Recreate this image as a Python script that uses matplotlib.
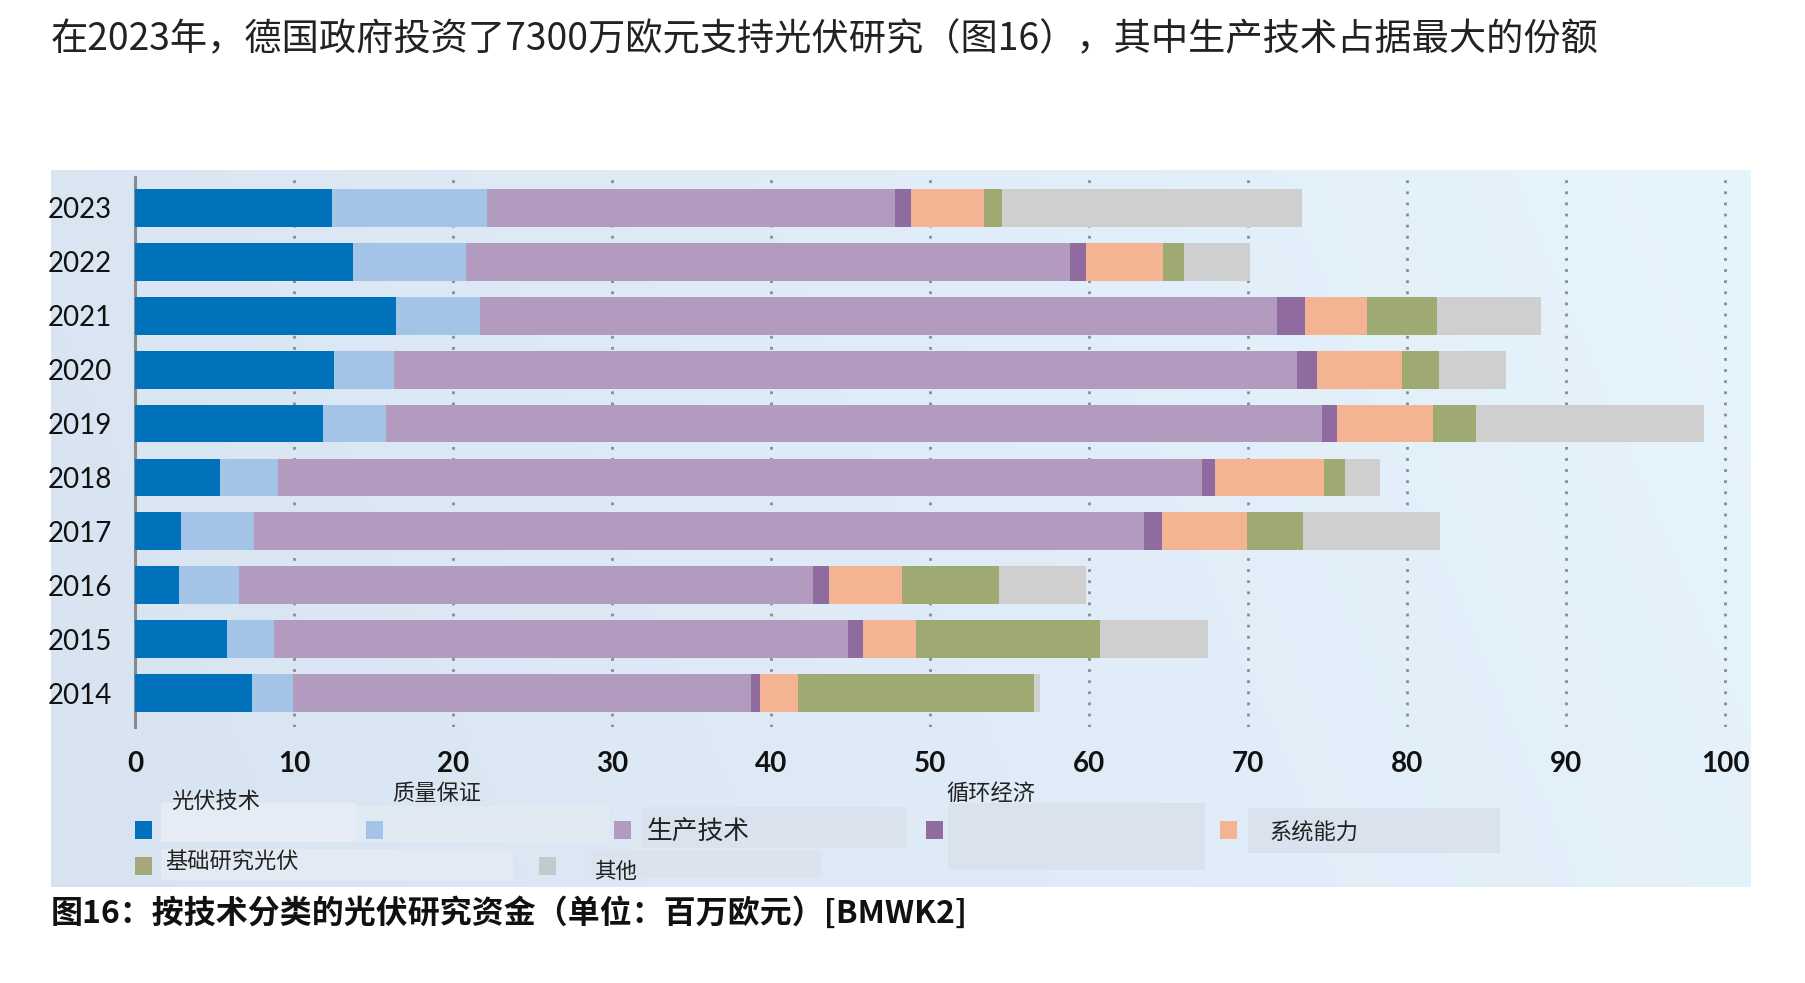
import numpy as np
import matplotlib
matplotlib.use("Agg")
import matplotlib.pyplot as plt
from matplotlib.patches import Rectangle

plt.rcParams['font.family'] = ['Noto Sans CJK SC', 'DejaVu Sans']

# data (million EUR)
years = ['2014', '2015', '2016', '2017', '2018', '2019', '2020', '2021', '2022', '2023']
categories = ['光伏技术', '质量保证', '生产技术', '循环经济', '系统能力', '基础研究光伏', '其他']
pv_tech    = [7.35, 5.75, 2.75, 2.85, 5.35, 11.8, 12.5, 16.4, 13.7, 12.35]
quality    = [2.6, 3.0, 3.75, 4.6, 3.65, 3.95, 3.8, 5.3, 7.1, 9.75]
production = [28.8, 36.05, 36.1, 56.0, 58.1, 58.9, 56.8, 50.1, 38.0, 25.7]
circular   = [0.55, 0.95, 1.05, 1.1, 0.8, 0.95, 1.2, 1.75, 1.0, 1.0]
system     = [2.4, 3.35, 4.55, 5.4, 6.9, 6.0, 5.4, 3.9, 4.85, 4.6]
basic      = [14.85, 11.6, 6.1, 3.5, 1.3, 2.7, 2.3, 4.4, 1.3, 1.1]
other      = [0.35, 6.8, 5.5, 8.6, 2.2, 14.4, 4.2, 6.6, 4.15, 18.9]
xticks = [0, 10, 20, 30, 40, 50, 60, 70, 80, 90, 100]

series = [pv_tech, quality, production, circular, system, basic, other]
colors = ['#0071bb', '#a3c4e7', '#b39bc0', '#8f6b9f', '#f4b493', '#9faa72', '#cfcfcf']
legend_colors = ['#0071bb', '#a3c4e7', '#b39bc0', '#8f6b9f', '#f4b493', '#a4a878', '#c2cacd']

title = '在2023年，德国政府投资了7300万欧元支持光伏研究（图16），其中生产技术占据最大的份额'
caption = '图16：按技术分类的光伏研究资金（单位：百万欧元）[BMWK2]'

W, H = 1805, 983
fig = plt.figure(figsize=(W / 100, H / 100), dpi=100)
fig.patch.set_facecolor('white')

# overlay in pixel coordinates for panel, legend and texts
ov = fig.add_axes([0, 0, 1, 1], zorder=0)
ov.set_xlim(0, W)
ov.set_ylim(H, 0)
ov.axis('off')

# panel with soft gradient
gx = np.linspace(0, 1, 256)
gy = np.linspace(0, 1, 64)
GX, GY = np.meshgrid(gx, gy)
left_c = np.array([0.847, 0.890, 0.945])
right_c = np.array([0.902, 0.957, 0.992])
t = np.clip(GX * 0.85 + (1 - GY) * 0.15, 0, 1)
img = left_c[None, None, :] * (1 - t[..., None]) + right_c[None, None, :] * t[..., None]
ov.imshow(img, extent=(51, 1751, 887, 170), aspect='auto', zorder=0, interpolation='bilinear')

# legend-area boxes
boxes = [(161, 803, 195, 39, '#e5ecf5'), (356, 806, 253, 36, '#e1e9f3'),
         (642, 807, 264, 41, '#d9e2ed'), (948, 803, 257, 67, '#d9e2ed'),
         (1248, 808, 252, 45, '#d9e2ed'), (161, 849, 352, 31, '#e3eaf3'),
         (591, 850, 230, 28, '#dae3ee')]
for bx, by, bw, bh, bc in boxes:
    ov.add_patch(Rectangle((bx, by), bw, bh, facecolor=bc, edgecolor='none', zorder=1))

# legend squares and labels (scattered like the reference)
sq = [(135, 821), (366, 821), (614, 821), (926, 821), (1220, 821), (135, 857), (539, 857)]
lab = [(216, 801, 'center', 16), (437, 793, 'center', 16), (647, 833, 'left', 18.5),
       (946, 793, 'left', 16), (1269, 833, 'left', 16), (165, 862, 'left', 16),
       (594, 872, 'left', 15.5)]
for (sx, sy), (lx, ly, ha, fs), name, c in zip(sq, lab, categories, legend_colors):
    ov.add_patch(Rectangle((sx, sy), 17, 18, facecolor=c, edgecolor='none', zorder=2))
    ov.text(lx, ly, name, ha=ha, va='center', fontsize=fs, color='#222222',
            fontweight='light', zorder=3)

ov.text(51, 40, title, ha='left', va='center', fontsize=26.8, color='#222222', fontweight='light')
ov.text(51, 913, caption, ha='left', va='center', fontsize=23, color='#111111', fontweight='bold')

# main chart
ax = fig.add_axes([135.3 / W, 1 - 727 / H, (1741 - 135.3) / W, (727 - 176.7) / H], zorder=1)
ax.set_facecolor('none')
y = np.arange(len(years))
left = np.zeros(len(years))
for vals, c in zip(series, colors):
    ax.barh(y, vals, left=left, height=0.7, color=c, edgecolor='none', zorder=3)
    left += np.array(vals)

ax.set_xlim(0, 101)
ax.set_ylim(-0.63, 9.58)
ax.set_xticks(xticks)
ax.set_yticks(y)
ax.set_yticklabels(years)
for s in ['top', 'right', 'bottom']:
    ax.spines[s].set_visible(False)
ax.spines['left'].set_color('#8a8a8a')
ax.spines['left'].set_linewidth(2.2)
ax.tick_params(axis='both', length=0)
ax.tick_params(axis='x', pad=17)
ax.tick_params(axis='y', pad=17)
for lbl in ax.get_xticklabels():
    lbl.set_fontfamily(['Lato', 'DejaVu Sans'])
    lbl.set_fontsize(20)
    lbl.set_fontweight('bold')
    lbl.set_color('#111111')
for lbl in ax.get_yticklabels():
    lbl.set_fontfamily(['Lato', 'DejaVu Sans'])
    lbl.set_fontsize(20)
    lbl.set_color('#111111')

for xv in xticks[1:]:
    ax.axvline(xv, color='#868c93', linewidth=2.0, linestyle=(0, (1, 3.0)), zorder=1)

fig.savefig('out.png', dpi=100)
